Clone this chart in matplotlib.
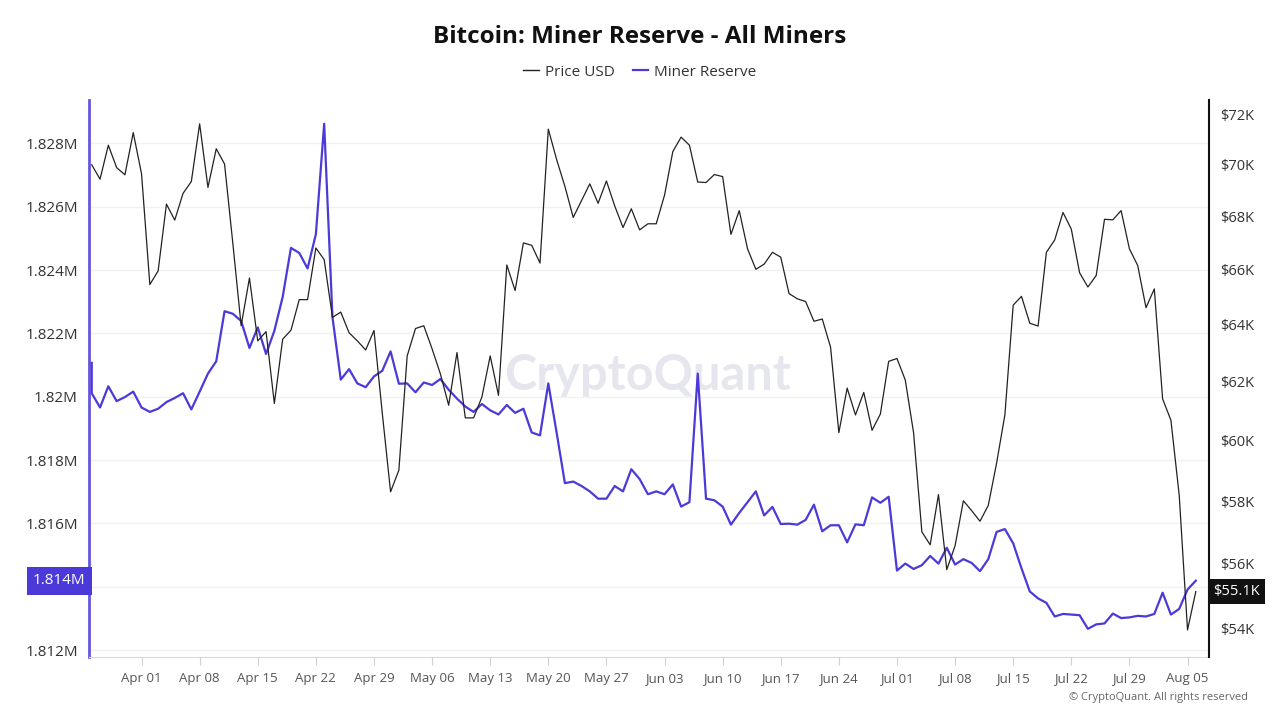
import matplotlib
matplotlib.use("Agg")
import matplotlib.pyplot as plt
import matplotlib.ticker as mticker
import matplotlib.dates as mdates
import matplotlib.transforms as mtrans
import numpy as np
import pandas as pd

plt.rcParams['font.family'] = ['Open Sans', 'DejaVu Sans']

# --- data (daily) ---
dates = pd.date_range("2024-03-26", "2024-08-06", freq="D")

price_k = [
    69.99, 69.43, 70.76, 69.88, 69.60, 71.26, 69.64, 65.46, 65.96, 68.47,
    67.86, 68.88, 69.34, 71.61, 69.11, 70.62, 70.02, 66.98, 63.97, 65.70,
    63.43, 63.76, 61.25, 63.49, 63.81, 64.91, 64.91, 66.81, 66.38, 64.27,
    64.46, 63.72, 63.43, 63.11, 63.80, 60.92, 58.30, 59.01, 62.90, 63.87,
    63.97, 63.15, 62.27, 61.19, 63.02, 60.76, 60.76, 61.47, 62.90, 61.53,
    66.18, 65.24, 67.00, 66.91, 66.25, 71.40, 70.20, 69.15, 67.96, 68.60,
    69.25, 68.50, 69.36, 68.40, 67.58, 68.29, 67.49, 67.72, 67.72, 68.81,
    70.51, 71.08, 70.76, 69.32, 69.30, 69.61, 69.53, 67.32, 68.22, 66.78,
    66.02, 66.21, 66.65, 66.47, 65.13, 64.94, 64.84, 64.13, 64.21, 63.21,
    60.26, 61.78, 60.86, 61.63, 60.34, 60.89, 62.71, 62.81, 62.06, 60.26,
    57.01, 56.60, 58.21, 55.82, 56.57, 58.01, 57.69, 57.35, 57.86, 59.24,
    60.86, 64.71, 65.03, 64.06, 63.96, 66.65, 67.11, 68.15, 67.52, 65.89,
    65.37, 65.79, 67.89, 67.87, 68.22, 66.78, 66.16, 64.62, 65.30, 61.41,
    60.68, 58.19, 53.97, 55.14,
]

reserve_m = [
    1.82011, 1.81966, 1.82033, 1.81986, 1.81999, 1.82016, 1.81966, 1.81952, 1.81962, 1.81983,
    1.81996, 1.82011, 1.81960, 1.82016, 1.82073, 1.82112, 1.82270, 1.82262, 1.82239, 1.82154,
    1.82219, 1.82135, 1.82208, 1.82315, 1.82470, 1.82454, 1.82405, 1.82513, 1.82862, 1.82251,
    1.82054, 1.82087, 1.82042, 1.82030, 1.82064, 1.82082, 1.82143, 1.82041, 1.82042, 1.82014,
    1.82045, 1.82037, 1.82056, 1.82022, 1.81994, 1.81969, 1.81952, 1.81977, 1.81957, 1.81944,
    1.81974, 1.81949, 1.81962, 1.81887, 1.81878, 1.82042, 1.81887, 1.81727, 1.81732, 1.81718,
    1.81701, 1.81678, 1.81678, 1.81718, 1.81701, 1.81771, 1.81740, 1.81692, 1.81701, 1.81692,
    1.81723, 1.81653, 1.81667, 1.82073, 1.81678, 1.81673, 1.81653, 1.81596, 1.81633, 1.81667,
    1.81701, 1.81625, 1.81652, 1.81598, 1.81599, 1.81596, 1.81611, 1.81659, 1.81575, 1.81594,
    1.81594, 1.81540, 1.81597, 1.81594, 1.81682, 1.81665, 1.81684, 1.81451, 1.81473, 1.81456,
    1.81468, 1.81497, 1.81473, 1.81523, 1.81470, 1.81487, 1.81475, 1.81449, 1.81487, 1.81573,
    1.81582, 1.81537, 1.81458, 1.81385, 1.81363, 1.81349, 1.81306, 1.81314, 1.81312, 1.81310,
    1.81267, 1.81281, 1.81284, 1.81315, 1.81301, 1.81303, 1.81308, 1.81306, 1.81314, 1.81381,
    1.81312, 1.81330, 1.81391, 1.81419,
]
reserve_open = 1.82107  # first print of the first day (short vertical stub at the left)

reserve_ticks = np.arange(1.812, 1.8285, 0.002)
price_ticks = [54, 56, 58, 60, 62, 64, 66, 68, 70, 72]

PURPLE = "#4b3ad9"
GRAY = "#555555"

# --- figure ---
fig = plt.figure(figsize=(12.8, 7.2), dpi=100)
ax = fig.add_axes([0.0695, 0.0875, 0.8750, 0.7736])
ax2 = ax.twinx()

ax.plot([dates[0]] + list(dates), [reserve_open] + reserve_m, color=PURPLE, lw=1.6, zorder=3)
ax2.plot(dates, price_k, color="#222222", lw=0.9, zorder=3)

ax.set_xlim(dates[0] - pd.Timedelta(hours=8), dates[-1] + pd.Timedelta(hours=38))
ax.set_ylim(1.81178, 1.82937)
ax2.set_yscale("log")
ax2.set_ylim(53.16, 72.57)

ax.set_yticks(reserve_ticks)
ax.yaxis.set_major_formatter(mticker.FuncFormatter(lambda v, _: f"{v:g}M"))
ax2.set_yticks(price_ticks)
ax2.yaxis.set_minor_locator(mticker.NullLocator())
ax2.yaxis.set_major_formatter(mticker.FuncFormatter(lambda v, _: f"${v:g}K"))

ax.xaxis.set_major_locator(mdates.WeekdayLocator(byweekday=mdates.MO))
ax.xaxis.set_major_formatter(mdates.DateFormatter("%b %d"))

ax.grid(axis="y", color="#f1f1f1", lw=1)
ax.set_axisbelow(True)

ax.tick_params(axis="y", length=0, pad=8, labelsize=11, labelcolor="#333333")
ax2.tick_params(axis="y", length=0, pad=8, labelsize=10.5, labelcolor="#333333")
ax.tick_params(axis="x", length=6, color="#d0d0d0", pad=5, labelsize=9.5, labelcolor=GRAY)

for s in ["top", "right"]:
    ax.spines[s].set_visible(False)
ax.spines["left"].set_color("#6656de")
ax.spines["left"].set_linewidth(2)
ax.spines["bottom"].set_color("#d9d9d9")
for s in ["top", "left", "bottom"]:
    ax2.spines[s].set_visible(False)
ax2.spines["right"].set_color("#111111")
ax2.spines["right"].set_linewidth(1.5)

# watermark
ax.text(0.499, 0.506, "CryptoQuant", transform=ax.transAxes, ha="center", va="center",
        fontsize=35, fontweight="bold", color="#e6e6ee", zorder=0, family=["Lato", "DejaVu Sans"])

# last value labels
tl = mtrans.blended_transform_factory(ax.transAxes, ax.transData)
ax.text(-0.003, reserve_m[-1], f"{reserve_m[-1]:.3f}M", transform=tl, ha="right", va="center",
        fontsize=11, color="white", zorder=6,
        bbox=dict(boxstyle="square,pad=0.42", fc=PURPLE, ec="none"))
tr = mtrans.blended_transform_factory(ax2.transAxes, ax2.transData)
ax2.text(1.004, price_k[-1], f"${price_k[-1]:.1f}K", transform=tr, ha="left", va="center",
         fontsize=10.5, color="white", zorder=6,
         bbox=dict(boxstyle="square,pad=0.35", fc="#111111", ec="none"))

# title + legend
fig.text(0.5, 0.948, "Bitcoin: Miner Reserve - All Miners", ha="center", va="center",
         fontsize=17.5, fontweight="bold", color="#111111")
h1, = ax.plot([], [], color="#222222", lw=1)
h2, = ax.plot([], [], color=PURPLE, lw=1.6)
fig.legend([h1, h2], ["Price USD", "Miner Reserve"], loc="center", bbox_to_anchor=(0.5, 0.9),
           ncol=2, frameon=False, fontsize=11, handlelength=1.0, handletextpad=0.4,
           columnspacing=1.2, labelcolor="#333333")

fig.text(0.975, 0.031, "© CryptoQuant. All rights reserved", ha="right", va="center",
         fontsize=8, color="#666666")

fig.savefig("out.png", dpi=100)
